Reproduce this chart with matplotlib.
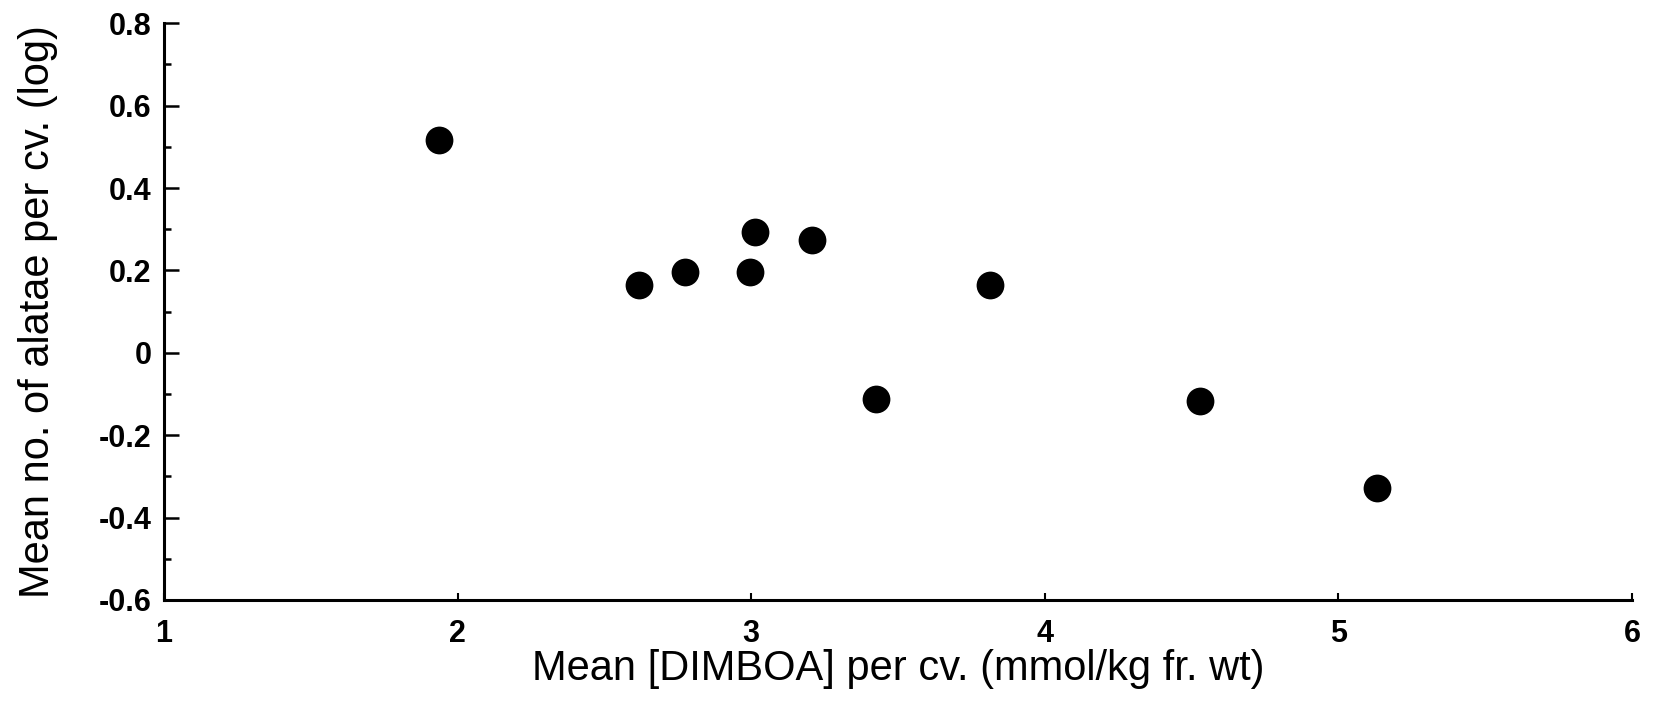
import matplotlib
matplotlib.use("Agg")
import matplotlib.pyplot as plt
from matplotlib.ticker import MultipleLocator, FixedLocator

# Mean DIMBOA concentration per cultivar (mmol/kg fr. wt)
dimboa = [1.935, 2.617, 2.773, 2.996, 3.014, 3.206, 3.426, 3.812, 4.527, 5.130]
# Mean number of alatae per cultivar (log)
alatae_log = [0.517, 0.165, 0.196, 0.196, 0.293, 0.273, -0.111, 0.165, -0.118, -0.327]

x_ticks = [1, 2, 3, 4, 5, 6]
y_ticks = [-0.6, -0.4, -0.2, 0, 0.2, 0.4, 0.6, 0.8]
y_tick_labels = ["-0.6", "-0.4", "-0.2", "0", "0.2", "0.4", "0.6", "0.8"]

plt.rcParams["font.family"] = ["Liberation Sans", "DejaVu Sans"]

fig = plt.figure(figsize=(16.62, 7.02), dpi=100)
ax = fig.add_axes([0.0987, 0.1453, 0.8833, 0.8215])

ax.plot(dimboa, alatae_log, linestyle="none", marker="o", markersize=20,
        color="black", markeredgewidth=0)

ax.set_xlim(1, 6)
ax.set_ylim(-0.6, 0.8)

ax.spines["top"].set_visible(False)
ax.spines["right"].set_visible(False)
ax.spines["left"].set_linewidth(2.2)
ax.spines["bottom"].set_linewidth(2.2)

ax.xaxis.set_major_locator(FixedLocator(x_ticks))
ax.set_yticks(y_ticks)
ax.set_yticklabels(y_tick_labels)
ax.yaxis.set_minor_locator(MultipleLocator(0.1))

ax.tick_params(axis="y", which="major", direction="in", length=11, width=1.8,
               labelsize=22, pad=9)
ax.tick_params(axis="y", which="minor", direction="in", length=5, width=1.8)
ax.tick_params(axis="x", which="major", direction="in", length=5, width=1.5,
               labelsize=22, pad=14)
for lbl in ax.get_xticklabels() + ax.get_yticklabels():
    lbl.set_fontweight("bold")

ax.set_xlabel("Mean [DIMBOA] per cv. (mmol/kg fr. wt)", fontsize=30)
ax.set_ylabel("Mean no. of alatae per cv. (log)", fontsize=30)
ax.xaxis.set_label_coords(0.5, -0.085)
ax.yaxis.set_label_coords(-0.072, 0.5)

fig.savefig("out.png", dpi=100)
